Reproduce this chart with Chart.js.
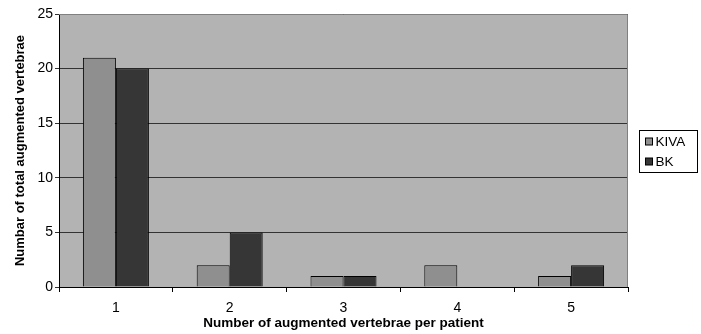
<!DOCTYPE html>
<html>
<head>
<meta charset="utf-8">
<script src="https://cdn.jsdelivr.net/npm/chart.js@4"></script>
<style>
  html, body { margin: 0; padding: 0; background: #fff; }
  #wrap { width: 701px; height: 334px; }
</style>
</head>
<body>
<div id="wrap"><canvas id="chart" width="701" height="334"></canvas></div>
<script>
// ---- data ----
const categories = ['1', '2', '3', '4', '5'];
const kivaValues = [21, 2, 1, 2, 1];
const bkValues = [20, 5, 1, 0, 2];
const yTicks = [0, 5, 10, 15, 20, 25];

const FONT = 'Arial, "Liberation Sans", sans-serif';

// grey plot area + grey top/right frame
const plotBg = {
  id: 'plotBg',
  beforeDraw(chart) {
    const { ctx, chartArea: a } = chart;
    ctx.save();
    ctx.fillStyle = '#b3b3b3';
    ctx.fillRect(a.left, a.top, a.right - a.left, a.bottom - a.top);
    ctx.restore();
  },
  afterDatasetsDraw(chart) {
    const { ctx, chartArea: a } = chart;
    ctx.save();
    ctx.strokeStyle = '#808080';
    ctx.lineWidth = 1;
    ctx.beginPath();
    ctx.moveTo(a.left, a.top + 0.5);
    ctx.lineTo(a.right - 0.5, a.top + 0.5);
    ctx.lineTo(a.right - 0.5, a.bottom);
    ctx.stroke();
    ctx.restore();
  }
};

// boxed legend on the right
const boxLegend = {
  id: 'boxLegend',
  afterDraw(chart) {
    const { ctx } = chart;
    const x = 639.5, y = 130.5, w = 58, h = 42;
    ctx.save();
    ctx.fillStyle = '#fff';
    ctx.strokeStyle = '#000';
    ctx.lineWidth = 1;
    ctx.fillRect(x, y, w, h);
    ctx.strokeRect(x, y, w, h);
    ctx.font = '13.5px ' + FONT;
    ctx.textBaseline = 'middle';
    chart.data.datasets.forEach((ds, i) => {
      const cy = y + 11 + i * 20;
      ctx.fillStyle = ds.backgroundColor;
      ctx.fillRect(x + 6, cy - 3.5, 7, 7);
      ctx.strokeStyle = '#000';
      ctx.strokeRect(x + 6, cy - 3.5, 7, 7);
      ctx.fillStyle = '#000';
      ctx.fillText(ds.label, x + 16, cy + 0.5);
    });
    ctx.restore();
  }
};

const ctx = document.getElementById('chart').getContext('2d');
const chart = new Chart(ctx, {
  type: 'bar',
  data: {
    labels: categories,
    datasets: [
      { label: 'KIVA', data: kivaValues, backgroundColor: '#8f8f8f', borderColor: '#000', borderWidth: 1 },
      { label: 'BK', data: bkValues, backgroundColor: '#363636', borderColor: '#000', borderWidth: 1 }
    ]
  },
  options: {
    responsive: false,
    animation: false,
    layout: { padding: { top: 14, right: 73, left: 13, bottom: 3 } },
    datasets: { bar: { barPercentage: 1, categoryPercentage: 0.58 } },
    plugins: { legend: { display: false }, tooltip: { enabled: false } },
    scales: {
      x: {
        grid: { display: true, drawOnChartArea: false, drawTicks: true, tickLength: 5, color: '#000', offset: true },
        border: { display: true, color: '#000', width: 1 },
        ticks: { color: '#000', font: { family: FONT, size: 14 }, padding: 8 },
        title: {
          display: true, text: 'Number of augmented vertebrae per patient',
          color: '#000', font: { family: FONT, size: 13.5, weight: 'bold' }, padding: { top: 0, bottom: 0 }
        },
        afterFit(s) { s.height = 334 - 287 - 3; }
      },
      y: {
        min: 0, max: 25,
        afterBuildTicks(s) { s.ticks = yTicks.map(v => ({ value: v })); },
        grid: { color: '#333', drawTicks: true, tickLength: 4 },
        border: { display: true, color: '#000', width: 1 },
        ticks: { color: '#000', font: { family: FONT, size: 14 }, padding: 2 },
        title: {
          display: true, text: 'Numbar of total augmented vertebrae',
          color: '#000', font: { family: FONT, size: 13, weight: 'bold' }, padding: { top: 0, bottom: 0 }
        },
        afterFit(s) { s.width = 59 - 13; }
      }
    }
  },
  plugins: [plotBg, boxLegend]
});
</script>
</body>
</html>
